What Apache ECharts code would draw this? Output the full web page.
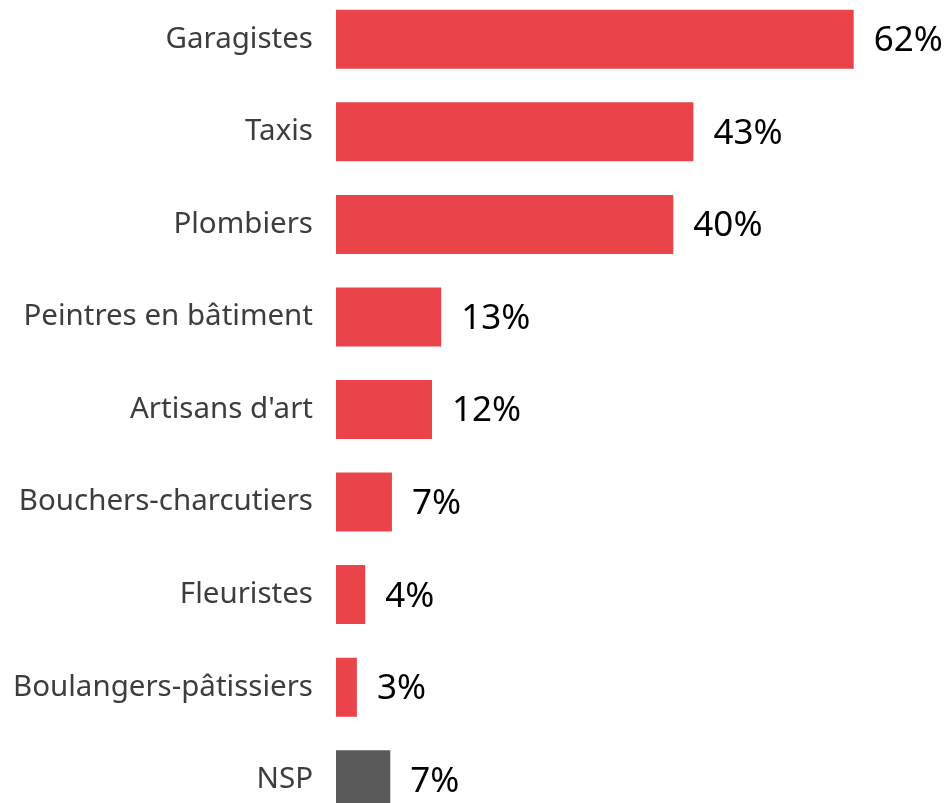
<!DOCTYPE html>
<html>
<head>
<meta charset="utf-8">
<script src="https://cdn.jsdelivr.net/npm/echarts@6/dist/echarts.min.js"></script>
<style>
html,body{margin:0;padding:0;background:#fff;overflow:hidden;}
#chart{position:absolute;left:0;top:-7px;width:946px;height:833px;}
</style>
</head>
<body>
<div id="chart"></div>
<script>
var categories = ["Garagistes", "Taxis", "Plombiers", "Peintres en bâtiment", "Artisans d'art", "Bouchers-charcutiers", "Fleuristes", "Boulangers-pâtissiers", "NSP"];
var values = [62.0, 42.8, 40.4, 12.6, 11.5, 6.7, 3.5, 2.5, 6.5];
var barColors = ["#EA4349", "#EA4349", "#EA4349", "#EA4349", "#EA4349", "#EA4349", "#EA4349", "#EA4349", "#595959"];

var chart = echarts.init(document.getElementById('chart'));
chart.setOption({
  animation: false,
  backgroundColor: '#ffffff',
  grid: { left: 336, right: 25.5, top: 0, bottom: 0, containLabel: false },
  xAxis: { type: 'value', min: 0, max: 70, show: false },
  yAxis: {
    type: 'category',
    data: categories,
    inverse: true,
    axisLine: { show: false },
    axisTick: { show: false },
    splitLine: { show: false },
    axisLabel: {
      margin: 23,
      color: '#3d3d3d',
      fontFamily: 'Noto Sans',
      fontSize: 29.5
    }
  },
  series: [{
    type: 'bar',
    barWidth: 59,
    data: values.map(function (v, i) { return { value: v, itemStyle: { color: barColors[i] } }; }),
    label: {
      show: true,
      position: 'right',
      distance: 20,
      color: '#000000',
      fontFamily: 'Noto Sans',
      fontSize: 35,
      offset: [0, 2],
      formatter: function (p) { return Math.round(p.value) + '%'; }
    }
  }]
});
</script>
</body>
</html>
